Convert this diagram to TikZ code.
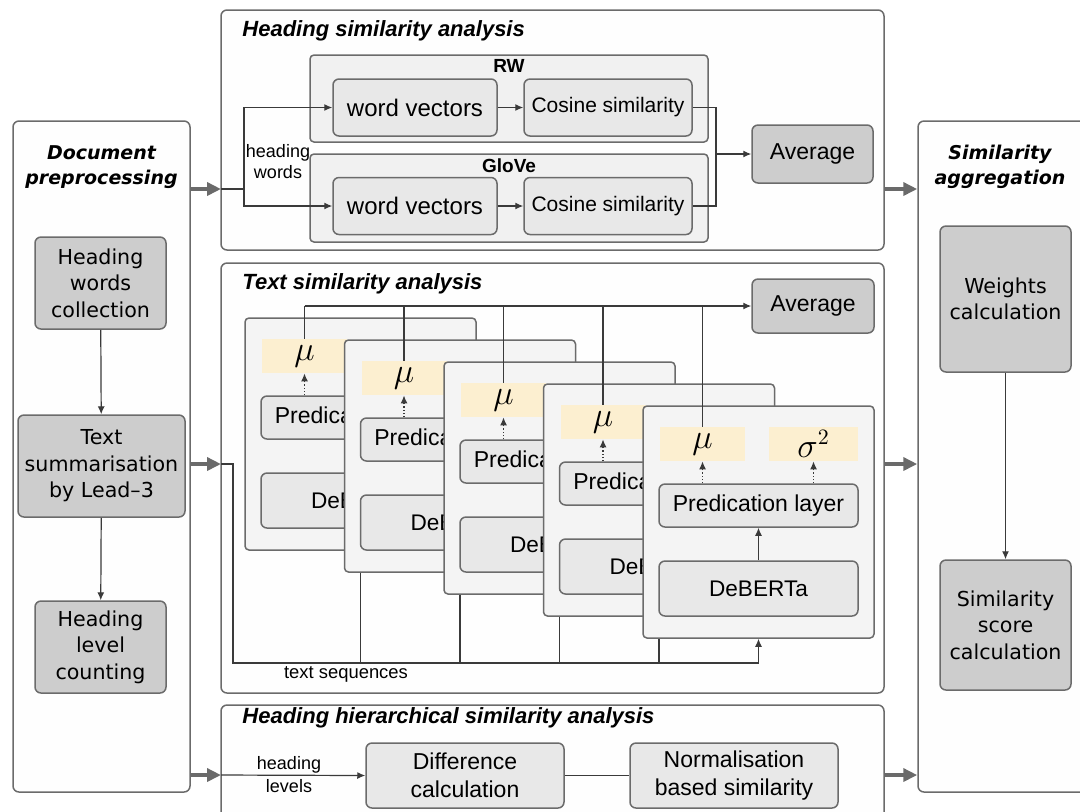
\documentclass[tikz,border=0pt]{standalone}
\usepackage{fontspec}
\setmainfont{Liberation Sans}
\newfontfamily\verdfont{DejaVu Sans}
\usepackage{xcolor}
\usetikzlibrary{arrows.meta}
\usetikzlibrary{positioning}

\definecolor{edgegray}{HTML}{6B6B6B}
\definecolor{linkgray}{HTML}{3A3A3A}
\definecolor{arrowgray}{HTML}{6A6A6A}
\definecolor{panelfill}{HTML}{FEFEFE}
\definecolor{groupfill}{HTML}{F1F1F1}
\definecolor{boxfill}{HTML}{E8E8E8}
\definecolor{cardfill}{HTML}{F4F4F4}
\definecolor{darkfill}{HTML}{CDCDCD}
\definecolor{hlyellow}{HTML}{FCEFD0}

\begin{document}
\begin{tikzpicture}[x=0.5pt,y=-0.5pt,
    panel/.style={draw=edgegray, fill=panelfill, rounded corners=3pt, line width=0.75pt, inner sep=0pt},
    groupbox/.style={draw=edgegray, fill=groupfill, rounded corners=2pt, line width=0.75pt, inner sep=0pt},
    lightbox/.style={draw=edgegray, fill=boxfill, rounded corners=3pt, line width=0.75pt, inner sep=0pt, align=center},
    darkbox/.style={draw=edgegray, fill=darkfill, rounded corners=3pt, line width=0.75pt, inner sep=0pt, align=center},
    cardbox/.style={draw=edgegray, fill=cardfill, rounded corners=2pt, line width=0.75pt, inner sep=0pt},
    hilite/.style={fill=hlyellow, inner sep=0pt, minimum height=17pt},
    paneltitle/.style={font=\bfseries\itshape\fontsize{11}{13}\selectfont, anchor=west, inner sep=0pt},
    sidetitle/.style={font=\verdfont\bfseries\itshape\fontsize{9.5}{12.5}\selectfont, align=center, inner sep=0pt},
    sidebox/.style={darkbox, font=\verdfont\fontsize{10.3}{13.3}\selectfont},
    smalllabel/.style={font=\fontsize{9}{11.5}\selectfont, align=center, inner sep=0pt},
    link/.style={line width=0.6pt, draw=linkgray},
    arrowlink/.style={link, -{Latex[length=4pt,width=3.5pt]}},
    bigarrow/.style={line width=2pt, draw=arrowgray, -{Triangle[length=7pt,width=6.5pt]}}
  ]
  \useasboundingbox (0,0) rectangle (1080,811);

  % side panels
  \node[panel, minimum width=88.5pt, minimum height=335.5pt] (leftpanel) at (101.5,456.5) {};
  \node[sidetitle] (lefttitle) at (101.5,167) {Document\\preprocessing};
  \node[sidebox, minimum width=65.5pt, minimum height=46pt] (hwc) at (100.5,283) {Heading\\words\\collection};
  \node[sidebox, minimum width=83.5pt, minimum height=51pt] (ts) at (101.5,466) {Text\\summarisation\\by Lead\textendash3};
  \node[sidebox, minimum width=65.5pt, minimum height=46pt] (hlc) at (100.5,647) {Heading\\level\\counting};
  \draw[arrowlink] (hwc) -- (ts);
  \draw[arrowlink] (ts) -- (hlc);

  \node[panel, minimum width=88.5pt, minimum height=335.5pt] (rightpanel) at (1006.5,456.5) {};
  \node[sidetitle] (righttitle) at (1000,167) {Similarity\\aggregation};
  \node[sidebox, minimum width=65.5pt, minimum height=73pt] (wc) at (1005.5,299) {Weights\\calculation};
  \node[sidebox, minimum width=65.5pt, minimum height=65pt] (ssc) at (1005.5,625) {Similarity\\score\\calculation};
  \draw[arrowlink] (wc) -- (ssc);

  % heading similarity
  \node[panel, minimum width=331.5pt, minimum height=120pt] (toppanel) at (552.5,130) {};
  \node[paneltitle] (toptitle) at (242,31) {Heading similarity analysis};
  \node[groupbox, minimum width=199pt, minimum height=43.5pt] (rw) at (509,98.5) {};
  \node[font=\bfseries\fontsize{9.5}{11}\selectfont, inner sep=0pt] (rwlabel) at (509,66) {RW};
  \node[lightbox, minimum width=82pt, minimum height=28.5pt, font=\fontsize{12}{14}\selectfont] (wv1) at (415,107.5) {word vectors};
  \node[lightbox, minimum width=84pt, minimum height=28.5pt, font=\fontsize{10.5}{12}\selectfont] (cs1) at (608,107.5) {Cosine similarity};
  \node[groupbox, minimum width=199pt, minimum height=44pt] (glove) at (509,198) {};
  \node[font=\bfseries\fontsize{9.5}{11}\selectfont, inner sep=0pt] (glovelabel) at (509,166) {GloVe};
  \node[lightbox, minimum width=82pt, minimum height=28.5pt, font=\fontsize{12}{14}\selectfont] (wv2) at (415,206) {word vectors};
  \node[lightbox, minimum width=84pt, minimum height=28.5pt, font=\fontsize{10.5}{12}\selectfont] (cs2) at (608,206) {Cosine similarity};
  \node[darkbox, minimum width=60.5pt, minimum height=29pt, font=\fontsize{11.5}{13}\selectfont] (avg1) at (812.5,154) {Average};
  \node[smalllabel, font=\fontsize{9}{10.5}\selectfont] (hwords) at (278,162) {heading\\words};
  \coordinate (headin) at (221,189);
  \coordinate (hsplit) at (244,189);
  \coordinate (hjoin) at (716,154);
  \draw[link] (headin) -- (hsplit);
  \draw[arrowlink] (hsplit) |- (wv1.west);
  \draw[arrowlink] (hsplit) |- (wv2.west);
  \draw[arrowlink] (wv1) -- (cs1);
  \draw[arrowlink] (wv2) -- (cs2);
  \draw[link] (cs1.east) -| (hjoin);
  \draw[link] (cs2.east) -| (hjoin);
  \draw[arrowlink] (hjoin) -- (avg1.west);

  % text similarity
  \node[panel, minimum width=331.5pt, minimum height=215pt] (midpanel) at (552.5,478) {};
  \node[paneltitle] (midtitle) at (242,284) {Text similarity analysis};
  \node[darkbox, minimum width=61pt, minimum height=27pt, font=\fontsize{11.5}{13}\selectfont] (avg2) at (813,306) {Average};
  \coordinate (textin) at (221,464);
  \coordinate (seqcorner) at (233,663);
  \foreach \k in {1,...,5} {
      \pgfmathsetmacro{\cl}{245+99.5*(\k-1)}
      \pgfmathsetmacro{\ct}{318+22*(\k-1)}
      \node[cardbox, minimum width=115.5pt, minimum height=116pt] (card\k) at (\cl+115.5,\ct+116) {};
      \draw[arrowlink] (card\k.south |- seqcorner) -- (card\k.south);
      \node[hilite, minimum width=42.5pt, font=\fontsize{16}{16}\selectfont] (mu\k) at (\cl+59.5,\ct+38) {$\mu$};
      \node[lightbox, minimum width=99.5pt, minimum height=21.5pt, font=\fontsize{11.5}{13}\selectfont] (pred\k) at (\cl+115.5,\ct+99.5) {Predication layer};
      \node[lightbox, minimum width=99.5pt, minimum height=27.5pt, font=\fontsize{11.3}{13}\selectfont] (deb\k) at (\cl+115.5,\ct+182.5) {DeBERTa};
      \draw[arrowlink] (deb\k) -- (pred\k);
      \draw[arrowlink, densely dotted] (pred\k.north -| mu\k) -- (mu\k.south);
      \draw[link] (mu\k.north) -- (mu\k.north |- avg2.west);
    }
  % only the front card shows its variance
  \node[hilite, minimum width=44.5pt, font=\fontsize{16}{16}\selectfont] (sig5) at (813.5,444) {$\sigma^2$};
  \draw[arrowlink, densely dotted] (pred5.north -| sig5) -- (sig5.south);
  \draw[arrowlink] (mu1.north |- avg2.west) -- (avg2.west);
  \draw[link] (textin) -| (seqcorner) -- (card5.south |- seqcorner);
  \node[smalllabel, font=\fontsize{9.2}{11}\selectfont] (seqlabel) at (346,674) {text sequences};

  % heading hierarchical similarity
  \node[panel, minimum width=331.5pt, minimum height=62.5pt] (botpanel) at (552.5,767.5) {};
  \node[paneltitle] (bottitle) at (242,718) {Heading hierarchical similarity analysis};
  \node[lightbox, minimum width=99pt, minimum height=32.5pt, font=\fontsize{11.5}{14}\selectfont] (diff) at (465,775.5) {Difference\\calculation};
  \node[lightbox, minimum width=104pt, minimum height=32.5pt, font=\fontsize{11.5}{14}\selectfont] (norm) at (734,775.5) {Normalisation\\based similarity};
  \node[smalllabel] (hlevels) at (289,775) {heading\\levels};
  \coordinate (levin) at (221,775);
  \draw[arrowlink] (levin) -- (diff.west);
  \draw[link] (diff.east) -- (norm.west);

  % panel to panel
  \draw[bigarrow] (leftpanel.east |- headin) -- (headin);
  \draw[bigarrow] (leftpanel.east |- textin) -- (textin);
  \draw[bigarrow] (leftpanel.east |- levin) -- (levin);
  \draw[bigarrow] (toppanel.east |- headin) -- (rightpanel.west |- headin);
  \draw[bigarrow] (midpanel.east |- textin) -- (rightpanel.west |- textin);
  \draw[bigarrow] (botpanel.east |- levin) -- (rightpanel.west |- levin);
\end{tikzpicture}
\end{document}
